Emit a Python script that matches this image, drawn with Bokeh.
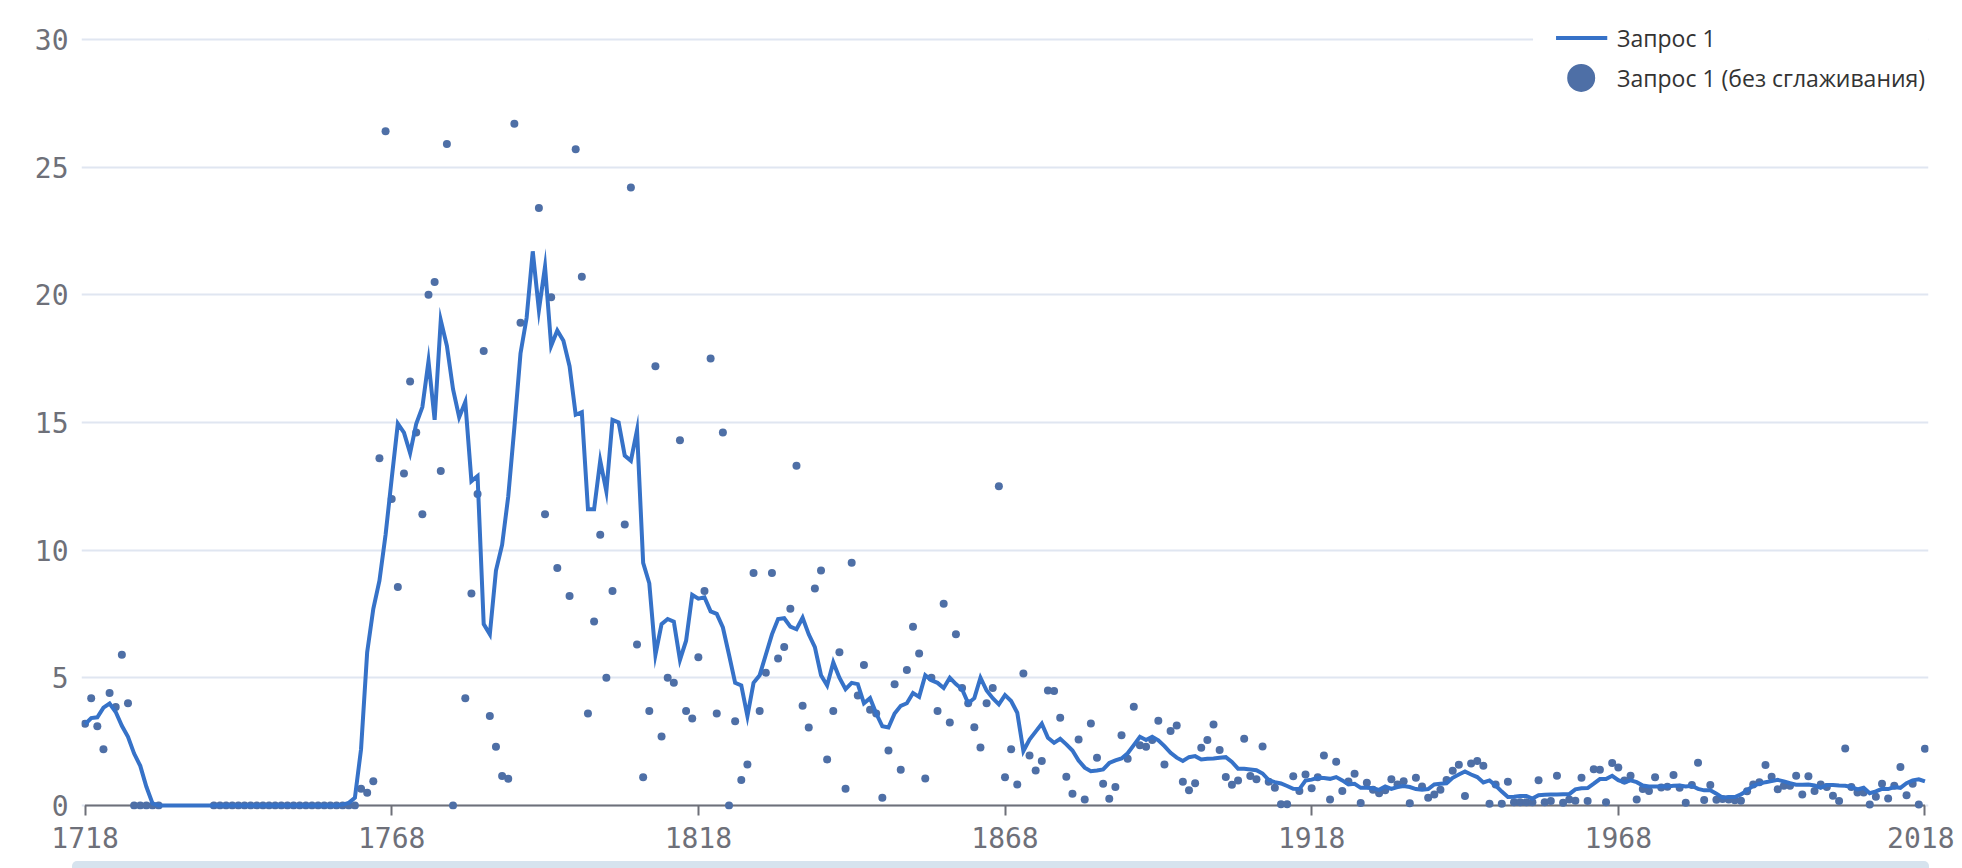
from bokeh.plotting import figure
from bokeh.models import Range1d, FixedTicker, Label, BoxAnnotation, Div
from bokeh.layouts import column
from bokeh.embed import file_html
from bokeh.resources import INLINE

# ---------------- data ----------------
first_year = 1718
last_year = 2018
years = list(range(first_year, last_year + 1))

# raw yearly values (None = no visible point)
raw_values = [
    3.2, 4.2, 3.1, 2.2, 4.4, 3.85, 5.9, 4.0, 0, 0,                     # 1718
    0, 0, 0, None, None, None, None, None, None, None,                 # 1728
    None, 0, 0, 0, 0, 0, 0, 0, 0, 0,                                   # 1738
    0, 0, 0, 0, 0, 0, 0, 0, 0, 0,                                      # 1748
    0, 0, 0, 0, 0, 0.65, 0.5, 0.95, 13.6, 26.4,                        # 1758
    12.0, 8.55, 13.0, 16.6, 14.6, 11.4, 20.0, 20.5, 13.1, 25.9,        # 1768
    0, None, 4.2, 8.3, 12.2, 17.8, 3.5, 2.3, 1.15, 1.04,               # 1778
    26.7, 18.9, None, None, 23.4, 11.4, 19.9, 9.3, None, 8.2,          # 1788
    25.7, 20.7, 3.6, 7.2, 10.6, 5.0, 8.4, None, 11.0, 24.2,            # 1798
    6.3, 1.1, 3.7, 17.2, 2.7, 5.0, 4.8, 14.3, 3.7, 3.4,                # 1808
    5.8, 8.4, 17.5, 3.6, 14.6, 0.0, 3.3, 1.0, 1.6, 9.1,                # 1818
    3.7, 5.2, 9.1, 5.75, 6.2, 7.7, 13.3, 3.9, 3.05, 8.5,               # 1828
    9.2, 1.8, 3.7, 6.0, 0.65, 9.5, 4.3, 5.5, 3.75, 3.6,                # 1838
    0.3, 2.15, 4.75, 1.4, 5.3, 7.0, 5.95, 1.05, 5.0, 3.7,              # 1848
    7.9, 3.25, 6.7, 4.6, 4.0, 3.06, 2.27, 4.0, 4.6, 12.5,              # 1858
    1.1, 2.2, 0.82, 5.17, 1.95, 1.37, 1.74, 4.5, 4.48, 3.43,           # 1868
    1.12, 0.46, 2.58, 0.23, 3.21, 1.87, 0.85, 0.26, 0.72, 2.75,        # 1878
    1.83, 3.86, 2.36, 2.3, 2.56, 3.32, 1.6, 2.91, 3.13, 0.93,          # 1888
    0.59, 0.87, 2.26, 2.56, 3.17, 2.17, 1.11, 0.81, 0.98, 2.61,        # 1898
    1.15, 1.02, 2.31, 0.93, 0.69, 0.05, 0.05, 1.14, 0.56, 1.21,        # 1908
    0.67, 1.1, 1.95, 0.23, 1.71, 0.56, 0.94, 1.24, 0.09, 0.89,         # 1918
    0.61, 0.48, 0.59, 1.02, 0.82, 0.95, 0.08, 1.08, 0.74, 0.3,         # 1928
    0.43, 0.61, 1.0, 1.36, 1.59, 0.37, 1.64, 1.74, 1.55, 0.07,         # 1938
    0.82, 0.07, 0.93, 0.12, 0.12, 0.12, 0.12, 0.99, 0.12, 0.17,        # 1948
    1.16, 0.1, 0.23, 0.18, 1.08, 0.17, 1.42, 1.4, 0.12, 1.66,          # 1958
    1.48, 0.98, 1.16, 0.23, 0.64, 0.56, 1.1, 0.7, 0.73, 1.19,          # 1968
    0.69, 0.1, 0.8, 1.67, 0.21, 0.8, 0.22, 0.25, 0.23, 0.2,            # 1978
    0.18, 0.55, 0.82, 0.91, 1.58, 1.12, 0.63, 0.77, 0.77, 1.16,        # 1988
    0.43, 1.14, 0.56, 0.82, 0.72, 0.38, 0.17, 2.23, 0.72, 0.51,        # 1998
    0.51, 0.04, 0.34, 0.85, 0.27, 0.77, 1.5, 0.4, 0.85, 0.04,          # 2008
    2.22,                                                              # 2018
]

# smoothed series
smooth_values = [
    3.18, 3.42, 3.45, 3.83, 3.99, 3.66, 3.12, 2.69, 2.03, 1.55,        # 1718
    0.73, 0.08, 0, 0, 0, 0, 0, 0, 0, 0,                                # 1728
    0, 0, 0, 0, 0, 0, 0, 0, 0, 0,                                      # 1738
    0, 0, 0, 0, 0, 0, 0, 0, 0, 0,                                      # 1748
    0, 0, 0.03, 0.1, 0.3, 2.2, 6.0, 7.7, 8.8, 10.6,                    # 1758
    12.8, 14.95, 14.6, 13.8, 14.95, 15.6, 17.4, 15.1, 19.0, 18.0,      # 1768
    16.3, 15.2, 15.8, 12.7, 12.9, 7.1, 6.7, 9.2, 10.2, 12.1,           # 1778
    14.8, 17.7, 19.1, 21.7, 19.4, 21.1, 18.0, 18.6, 18.2, 17.2,        # 1788
    15.3, 15.4, 11.6, 11.6, 13.5, 12.3, 15.1, 15.0, 13.7, 13.5,        # 1798
    14.7, 9.5, 8.7, 5.9, 7.1, 7.3, 7.2, 5.7, 6.45, 8.25,               # 1808
    8.1, 8.15, 7.6, 7.5, 6.97, 5.9, 4.8, 4.7, 3.5, 4.8,                # 1818
    5.1, 5.9, 6.7, 7.3, 7.33, 7.0, 6.9, 7.35, 6.7, 6.2,                # 1828
    5.1, 4.7, 5.6, 5.0, 4.55, 4.8, 4.75, 4.0, 4.2, 3.6,                # 1838
    3.1, 3.05, 3.6, 3.9, 4.0, 4.4, 4.25, 5.1, 4.9, 4.8,                # 1848
    4.6, 5.0, 4.75, 4.55, 4.0, 4.2, 5.0, 4.5, 4.2, 3.96,               # 1858
    4.32, 4.09, 3.63, 2.13, 2.58, 2.89, 3.2, 2.65, 2.45, 2.61,         # 1868
    2.39, 2.15, 1.76, 1.48, 1.34, 1.37, 1.41, 1.66, 1.76, 1.84,        # 1878
    2.04, 2.36, 2.69, 2.56, 2.69, 2.55, 2.32, 2.06, 1.87, 1.74,        # 1888
    1.89, 1.93, 1.8, 1.83, 1.84, 1.87, 1.89, 1.7, 1.44, 1.44,          # 1898
    1.41, 1.38, 1.25, 0.99, 0.91, 0.86, 0.76, 0.65, 0.64, 0.97,        # 1908
    1.01, 1.08, 1.07, 1.04, 1.11, 0.98, 0.82, 0.85, 0.69, 0.69,        # 1918
    0.67, 0.61, 0.74, 0.65, 0.72, 0.76, 0.72, 0.64, 0.61, 0.64,        # 1928
    0.82, 0.85, 0.87, 1.08, 1.21, 1.33, 1.21, 1.11, 0.9, 0.98,         # 1938
    0.78, 0.54, 0.33, 0.34, 0.37, 0.37, 0.27, 0.4, 0.42, 0.43,         # 1948
    0.43, 0.44, 0.44, 0.63, 0.67, 0.68, 0.85, 1.03, 1.03, 1.16,        # 1958
    0.99, 0.9, 0.98, 0.91, 0.78, 0.74, 0.74, 0.74, 0.74, 0.77,         # 1968
    0.78, 0.74, 0.77, 0.65, 0.59, 0.59, 0.46, 0.3, 0.33, 0.33,         # 1978
    0.43, 0.59, 0.77, 0.85, 0.91, 0.95, 1.0, 0.94, 0.87, 0.81,         # 1988
    0.81, 0.82, 0.78, 0.69, 0.8, 0.8, 0.78, 0.77, 0.72, 0.63,          # 1998
    0.69, 0.48, 0.55, 0.65, 0.64, 0.72, 0.69, 0.87, 0.98, 1.02,        # 2008
    0.94,                                                              # 2018
]

x_tick_values = [1718, 1768, 1818, 1868, 1918, 1968, 2018]
y_tick_values = [0, 5, 10, 15, 20, 25, 30]
series_label = "Запрос 1"
raw_label = "Запрос 1 (без сглаживания)"

assert len(raw_values) == len(years) == len(smooth_values)

raw_x = [y for y, v in zip(years, raw_values) if v is not None]
raw_y = [v for v in raw_values if v is not None]

# ---------------- styling ----------------
LINE_COLOR = "#3672c8"
DOT_COLOR = "#4e6fa6"
AXIS_COLOR = "#6E7079"
GRID_COLOR = "#E0E6F1"
MONO = "DejaVu Sans Mono"

p = figure(
    width=1954, height=861,
    frame_width=1847, frame_height=801,
    min_border_left=81, min_border_right=26, min_border_top=8, min_border_bottom=52,
    x_range=Range1d(1717.42, 2018.58),
    y_range=Range1d(-0.16, 31.21),
    output_backend="svg", toolbar_location=None,
    background_fill_color="white", border_fill_color="white",
)
p.outline_line_color = None

# grid
p.xgrid.visible = False
p.ygrid.ticker = FixedTicker(ticks=y_tick_values)
p.ygrid.grid_line_color = GRID_COLOR
p.ygrid.grid_line_width = 2

# y axis
p.yaxis.ticker = FixedTicker(ticks=y_tick_values)
p.yaxis.axis_line_color = None
p.yaxis.major_tick_line_color = None
p.yaxis.minor_tick_line_color = None
p.yaxis.major_tick_in = 0
p.yaxis.major_tick_out = 0
p.yaxis.minor_tick_in = 0
p.yaxis.minor_tick_out = 0
p.yaxis.major_label_standoff = 13
p.yaxis.major_label_text_font = MONO
p.yaxis.major_label_text_font_size = "28px"
p.yaxis.major_label_text_color = AXIS_COLOR

# x axis
p.xaxis.ticker = FixedTicker(ticks=x_tick_values)
p.xaxis.axis_line_color = None
p.xaxis.minor_tick_line_color = None
p.xaxis.minor_tick_in = 0
p.xaxis.minor_tick_out = 0
p.xaxis.major_tick_line_color = AXIS_COLOR
p.xaxis.major_tick_line_width = 2
p.xaxis.major_tick_in = 4
p.xaxis.major_tick_out = 6
p.xaxis.major_label_standoff = 11
p.xaxis.major_label_text_font = MONO
p.xaxis.major_label_text_font_size = "28px"
p.xaxis.major_label_text_color = AXIS_COLOR

# white backing behind legend (hides the top grid line there)
p.add_layout(BoxAnnotation(left=1954.1, bottom=29.6, top=30.4,
                           fill_color="white", fill_alpha=1.0,
                           line_color=None, level="underlay"))

# axis line at y = 0
p.segment(x0=[years[0]], y0=[0], x1=[years[-1]], y1=[0],
          line_color=AXIS_COLOR, line_width=2)

# data: dots underneath, smoothed line on top
p.scatter(raw_x, raw_y, size=8, fill_color=DOT_COLOR, line_color=None)
p.line(years, smooth_values, line_color=LINE_COLOR, line_width=4,
       line_join="miter")

# legend (drawn manually to match sizes)
p.segment(x0=[1957.85], y0=[30.05], x1=[1966.2], y1=[30.05],
          line_color=LINE_COLOR, line_width=4)
p.scatter([1961.95], [28.49], size=28, fill_color=DOT_COLOR, line_color=None)
for txt, yy in ((series_label, 30.05), (raw_label, 28.49)):
    p.add_layout(Label(x=1967.8, y=yy, text=txt, text_baseline="middle",
                       text_align="left", text_font="Open Sans",
                       text_font_size="23px", text_color="#333333"))

bar = Div(
    text='<div style="width:1857px;height:12px;background:#d6e3ee;'
         'border-radius:5px;"></div>',
    margin=(0, 0, 0, 72),
)

layout = column(p, bar, spacing=0)
open("out.html", "w").write(file_html(layout, INLINE))
